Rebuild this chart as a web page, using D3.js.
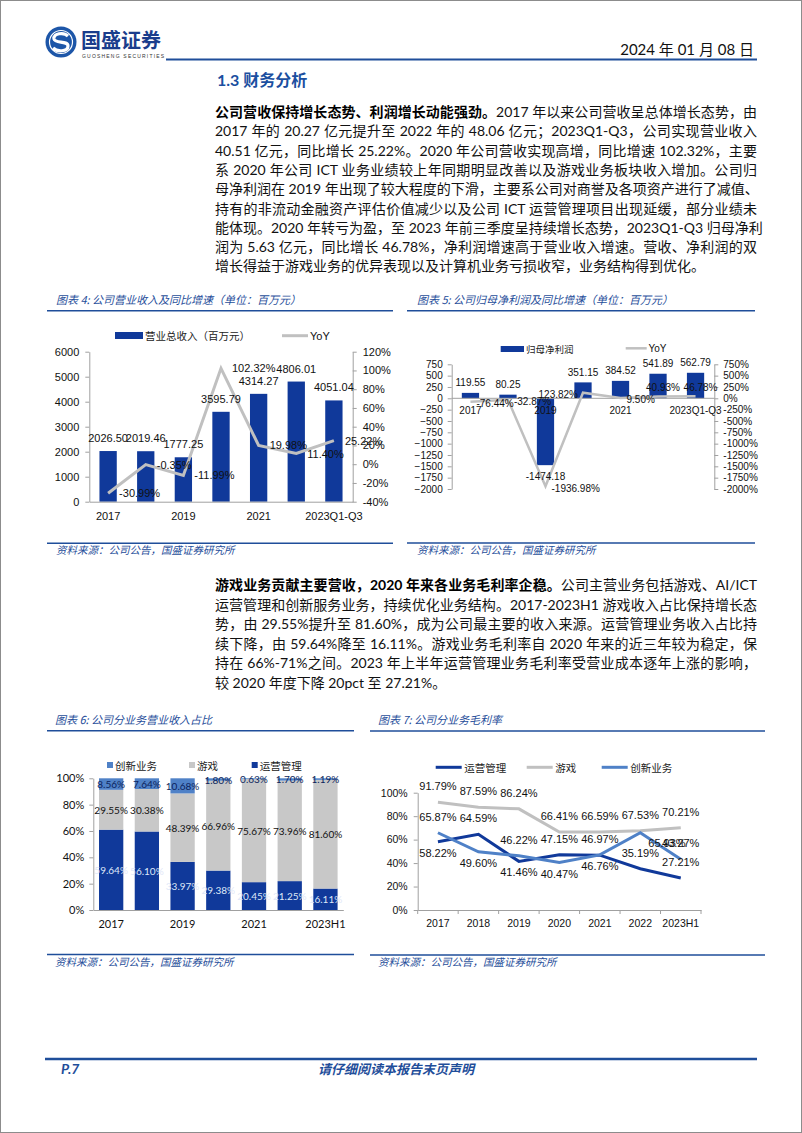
<!DOCTYPE html>
<html lang="zh-CN"><head><meta charset="utf-8">
<script src="https://cdn.jsdelivr.net/npm/d3@7"></script>
<style>
body{margin:0;background:#fff;}
#page{position:relative;width:802px;height:1133px;overflow:hidden;background:#fff;}
#page svg{position:absolute;left:0;top:0;}
.ln{position:absolute;left:215px;width:542px;height:20px;line-height:20px;font-family:Lato,"Noto Sans CJK SC",sans-serif;font-size:14px;color:#111;white-space:nowrap;text-align:justify;text-align-last:justify;text-justify:inter-character;}
.ln.last{text-align-last:left;}
.ln b{font-weight:700;color:#000;}
</style></head>
<body><div id="page"></div>
<script>
// ---------- DATA ----------
const revCategories = ["2017","2018","2019","2020","2021","2022","2023Q1-Q3"];
const revValues = [2026.50, 2019.46, 1777.25, 3595.79, 4314.27, 4806.01, 4051.04];
const revYoY = [-30.99, -0.35, -11.99, 102.32, 19.98, 11.40, 25.22];
const revTickLabels = ["2017","2019","2021","2023Q1-Q3"];
const revLeftTicks = [0,1000,2000,3000,4000,5000,6000];
const revRightTicks = [-40,-20,0,20,40,60,80,100,120];

const npCategories = ["2017","2018","2019","2020","2021","2022","2023Q1-Q3"];
const npValues = [119.55, 80.25, -1474.18, 351.15, 384.52, 541.89, 562.79];
const npYoY = [-76.44, -32.87, -1936.98, 123.82, 9.50, 40.93, 46.78];
const npTickLabels = ["2017","2019","2021","2023Q1-Q3"];
const npTicks = [-2000,-1750,-1500,-1250,-1000,-750,-500,-250,0,250,500,750];

const segCategories = ["2017","2018","2019","2020","2021","2022","2023H1"];
const segOps = [59.64, 56.10, 33.97, 29.38, 20.45, 21.25, 16.11];
const segGame = [29.55, 30.38, 48.39, 66.96, 75.67, 73.96, 81.60];
const segInnov = [8.56, 7.64, 10.68, 1.80, 0.63, 1.70, 1.19];
const segTickLabels = ["2017","2019","2021","2023H1"];
const segTicks = [0,0.2,0.4,0.6,0.8,1];

const gmCategories = ["2017","2018","2019","2020","2021","2022","2023H1"];
const gmOps = [58.22, 64.59, 41.46, 47.15, 46.76, 35.19, 27.21];
const gmGame = [91.79, 87.59, 86.24, 66.41, 66.59, 67.53, 70.21];
const gmInnov = [65.87, 49.60, 46.22, 40.47, 46.97, 65.93, 43.27];
const gmTicks = [0,20,40,60,80,100];

// label placement (layout only)
const npYoYPos = ["right","right","right","left","right","above","above"];
const gmOpsPos = ["below","above","below","above","below","above","above"];
const gmGamePos = ["above","above","above","above","above","above","above"];
const gmInnovPos = ["above","below","above","below","above","right","above"];

// ---------- TEXT ----------
const para1 = [
  ["公司营收保持增长态势、利润增长动能强劲。","2017 年以来公司营收呈总体增长态势，由"],
  ["","2017 年的 20.27 亿元提升至 2022 年的 48.06 亿元；2023Q1-Q3，公司实现营业收入"],
  ["","40.51 亿元，同比增长 25.22%。2020 年公司营收实现高增，同比增速 102.32%，主要"],
  ["","系 2020 年公司 ICT 业务业绩较上年同期明显改善以及游戏业务板块收入增加。公司归"],
  ["","母净利润在 2019 年出现了较大程度的下滑，主要系公司对商誉及各项资产进行了减值、"],
  ["","持有的非流动金融资产评估价值减少以及公司 ICT 运营管理项目出现延缓，部分业绩未"],
  ["","能体现。2020 年转亏为盈，至 2023 年前三季度呈持续增长态势，2023Q1-Q3 归母净利"],
  ["","润为 5.63 亿元，同比增长 46.78%，净利润增速高于营业收入增速。营收、净利润的双"],
  ["","增长得益于游戏业务的优异表现以及计算机业务亏损收窄，业务结构得到优化。"]
];
const para2 = [
  ["游戏业务贡献主要营收，2020 年来各业务毛利率企稳。","公司主营业务包括游戏、AI/ICT"],
  ["","运营管理和创新服务业务，持续优化业务结构。2017-2023H1 游戏收入占比保持增长态"],
  ["","势，由 29.55%提升至 81.60%，成为公司最主要的收入来源。运营管理业务收入占比持"],
  ["","续下降，由 59.64%降至 16.11%。游戏业务毛利率自 2020 年来的近三年较为稳定，保"],
  ["","持在 66%-71%之间。2023 年上半年运营管理业务毛利率受营业成本逐年上涨的影响，"],
  ["","较 2020 年度下降 20pct 至 27.21%。"]
];

// ---------- STYLE ----------
const BLUE = "#10399a", GRAY = "#c0c0c0", MID = "#4f81c7", TBLUE = "#1f4e9a", AX = "#a0a0a0";
const NUM = "'Liberation Sans', Arial, sans-serif";
const CJK = "'Noto Sans CJK SC', sans-serif";
const LAT = "Lato, 'Noto Sans CJK SC', sans-serif";
const fmtInt = d3.format("d");

const page = d3.select("#page");
function addPara(lines, y0, step) {
  lines.forEach((l, i) => {
    const d = page.append("div").attr("class", "ln" + (i === lines.length - 1 ? " last" : ""))
      .style("top", (y0 + i * step - 10) + "px");
    if (l[0]) d.append("b").text(l[0]);
    d.append("span").text(l[1]);
  });
}
addPara(para1, 112, 19.3);
addPara(para2, 585, 19.5);

const svg = page.append("svg").attr("width", 802).attr("height", 1133);
svg.append("rect").attr("x", 0.5).attr("y", 0.5).attr("width", 801).attr("height", 1132)
  .attr("fill", "none").attr("stroke", "#8c8c8c");

// header
const logo = svg.append("g").attr("transform", "translate(61,42)");
logo.append("circle").attr("r", 15.5).attr("fill", "#1d56a8");
logo.append("circle").attr("r", 11.5).attr("fill", "none").attr("stroke", "#fff").attr("stroke-width", 1.2);
logo.append("path").attr("d", "M7,-6 C3,-10 -8,-9 -7,-3 C-6,2 7,-2 7,4 C7,10 -4,10 -8,6")
  .attr("fill", "none").attr("stroke", "#fff").attr("stroke-width", 3.2);
svg.append("text").attr("x", 81).attr("y", 48).attr("font-family", CJK).attr("font-size", 20)
  .attr("font-weight", 700).attr("fill", "#1a3d8c").text("国盛证券");
svg.append("text").attr("x", 82).attr("y", 57.5).attr("font-family", NUM).attr("font-size", 5)
  .attr("letter-spacing", 1.2).attr("fill", "#333").text("GUOSHENG SECURITIES");
svg.append("text").attr("x", 754).attr("y", 55).attr("text-anchor", "end").attr("font-family", LAT)
  .attr("font-size", 15).attr("fill", "#111").text("2024 年 01 月 08 日");
svg.append("line").attr("x1", 166).attr("x2", 757).attr("y1", 59.5).attr("y2", 59.5)
  .attr("stroke", TBLUE).attr("stroke-width", 2);
svg.append("text").attr("x", 217).attr("y", 86).attr("font-family", LAT).attr("font-size", 16)
  .attr("font-weight", 700).attr("fill", "#1b4fa0").text("1.3 财务分析");

// footer
svg.append("line").attr("x1", 45).attr("x2", 757).attr("y1", 1059).attr("y2", 1059)
  .attr("stroke", TBLUE).attr("stroke-width", 2.5);
svg.append("text").attr("x", 61).attr("y", 1074).attr("font-family", LAT).attr("font-size", 14)
  .attr("font-weight", 700).attr("font-style", "italic").attr("fill", TBLUE).text("P.7");
svg.append("text").attr("x", 318).attr("y", 1074).attr("font-family", CJK).attr("font-size", 13)
  .attr("font-weight", 700).attr("font-style", "italic").attr("fill", TBLUE).text("请仔细阅读本报告末页声明");

// chart frames
function frame(x0, x1, tx, title, ty, lineY, srcLineY) {
  svg.append("text").attr("x", tx).attr("y", ty).attr("font-family", CJK).attr("font-size", 11)
    .attr("font-style", "italic").attr("fill", TBLUE).text(title);
  svg.append("line").attr("x1", x0).attr("x2", x1).attr("y1", lineY).attr("y2", lineY)
    .attr("stroke", TBLUE).attr("stroke-width", 1.6);
  svg.append("line").attr("x1", x0).attr("x2", x1).attr("y1", srcLineY).attr("y2", srcLineY)
    .attr("stroke", TBLUE).attr("stroke-width", 1.6);
  svg.append("text").attr("x", tx).attr("y", srcLineY + 11).attr("font-family", CJK).attr("font-size", 10.5)
    .attr("font-style", "italic").attr("fill", TBLUE).text("资料来源：公司公告，国盛证券研究所");
}
frame(47, 393, 56, "图表 4:  公司营业收入及同比增速（单位：百万元）", 304, 310.7, 543.3);
frame(407, 755, 417, "图表 5:  公司归母净利润及同比增速（单位：百万元）", 304, 310.7, 543);
frame(47, 354, 55, "图表 6:  公司分业务营业收入占比", 724, 730.7, 954.5);
frame(370, 765, 378, "图表 7:  公司分业务毛利率", 724, 731, 955);

function styleAxis(g, fs, fam) {
  g.selectAll("path.domain").attr("stroke", AX).attr("stroke-width", 1);
  g.selectAll(".tick line").attr("stroke", AX);
  g.selectAll("text").attr("font-family", fam).attr("font-size", fs).attr("fill", "#111");
}

// ---------- CHART 4 ----------
{
  const x = d3.scaleBand().domain(revCategories).range([89.3, 352.7]).paddingInner(0.54).paddingOuter(0.27);
  const y = d3.scaleLinear().domain([0, 6000]).range([501.7, 351.7]);
  const yr = d3.scaleLinear().domain([-40, 120]).range([501.7, 351.7]);
  const cx = c => x(c) + x.bandwidth() / 2;
  const g = svg.append("g");
  g.selectAll("rect.b").data(revValues).join("rect").attr("x", (d, i) => x(revCategories[i]))
    .attr("y", d => y(d)).attr("width", x.bandwidth()).attr("height", d => y(0) - y(d)).attr("fill", BLUE);
  const la = g.append("g").attr("transform", "translate(89.3,0)")
    .call(d3.axisLeft(y).tickValues(revLeftTicks).tickSize(4).tickPadding(6).tickSizeOuter(0).tickFormat(fmtInt));
  styleAxis(la, 11, NUM);
  const ra = g.append("g").attr("transform", "translate(352.7,0)")
    .call(d3.axisRight(yr).tickValues(revRightTicks).tickSize(4).tickPadding(6).tickSizeOuter(0).tickFormat(d => d + "%"));
  styleAxis(ra, 11, NUM);
  const ba = g.append("g").attr("transform", "translate(0,501.7)")
    .call(d3.axisBottom(x).tickValues(revTickLabels).tickSize(0).tickPadding(11).tickSizeOuter(0));
  styleAxis(ba, 11, NUM);
  g.append("path").datum(revYoY).attr("fill", "none").attr("stroke", GRAY).attr("stroke-width", 3)
    .attr("d", d3.line().x((d, i) => cx(revCategories[i])).y(d => yr(d)));
  g.selectAll("text.bl").data(revValues).join("text").attr("class", "bl")
    .attr("x", (d, i) => cx(revCategories[i])).attr("y", d => y(d) - 9).attr("text-anchor", "middle")
    .attr("font-family", NUM).attr("font-size", 11).attr("fill", "#111").text(d => d.toFixed(2));
  g.selectAll("text.yl").data(revYoY).join("text").attr("class", "yl")
    .attr("x", (d, i) => cx(revCategories[i]) + 11).attr("y", d => yr(d)).attr("dominant-baseline", "central")
    .attr("font-family", NUM).attr("font-size", 11).attr("fill", "#111").text(d => d.toFixed(2) + "%");
  // legend
  g.append("rect").attr("x", 115).attr("y", 332).attr("width", 28).attr("height", 7).attr("fill", BLUE);
  g.append("text").attr("x", 145).attr("y", 335.5).attr("dominant-baseline", "central").attr("font-family", CJK)
    .attr("font-size", 10.5).attr("fill", "#222").text("营业总收入（百万元）");
  g.append("line").attr("x1", 282).attr("x2", 308).attr("y1", 335.7).attr("y2", 335.7).attr("stroke", GRAY).attr("stroke-width", 3);
  g.append("text").attr("x", 310).attr("y", 335.7).attr("dominant-baseline", "central").attr("font-family", NUM)
    .attr("font-size", 11).attr("fill", "#111").text("YoY");
}

// ---------- CHART 5 ----------
{
  const x = d3.scaleBand().domain(npCategories).range([451.7, 714.3]).paddingInner(0.54).paddingOuter(0.27);
  const y = d3.scaleLinear().domain([-2000, 750]).range([489, 364.3]);
  const cx = c => x(c) + x.bandwidth() / 2;
  const g = svg.append("g");
  g.selectAll("rect.b").data(npValues).join("rect").attr("x", (d, i) => x(npCategories[i]))
    .attr("y", d => y(Math.max(0, d))).attr("width", x.bandwidth()).attr("height", d => Math.abs(y(0) - y(d))).attr("fill", BLUE);
  const la = g.append("g").attr("transform", "translate(451.7,0)")
    .call(d3.axisLeft(y).tickValues(npTicks).tickSize(4).tickPadding(5).tickSizeOuter(0).tickFormat(fmtInt));
  styleAxis(la, 10, NUM);
  const ra = g.append("g").attr("transform", "translate(714.3,0)")
    .call(d3.axisRight(y).tickValues(npTicks).tickSize(4).tickPadding(5).tickSizeOuter(0).tickFormat(d => d + "%"));
  styleAxis(ra, 10, NUM);
  g.append("line").attr("x1", 451.7).attr("x2", 714.3).attr("y1", y(0)).attr("y2", y(0)).attr("stroke", AX);
  g.selectAll("text.xl").data(npTickLabels).join("text").attr("x", d => cx(d)).attr("y", y(0) + 12)
    .attr("text-anchor", "middle").attr("dominant-baseline", "central").attr("font-family", NUM)
    .attr("font-size", 10).attr("fill", "#111").text(d => d);
  g.append("path").datum(npYoY).attr("fill", "none").attr("stroke", GRAY).attr("stroke-width", 2.5)
    .attr("d", d3.line().x((d, i) => cx(npCategories[i])).y(d => y(d)));
  g.selectAll("text.bl").data(npValues).join("text")
    .attr("x", (d, i) => cx(npCategories[i])).attr("y", d => d >= 0 ? y(d) - 10 : y(d) + 11)
    .attr("text-anchor", "middle").attr("dominant-baseline", "central")
    .attr("font-family", NUM).attr("font-size", 10).attr("fill", "#111").text(d => d.toFixed(2));
  g.selectAll("text.yl").data(npYoY).join("text")
    .attr("x", (d, i) => { const p = npYoYPos[i], c = cx(npCategories[i]); return p === "right" ? c + 6 : p === "left" ? c - 5 : c + 5; })
    .attr("y", (d, i) => npYoYPos[i] === "above" ? y(d) - 9 : y(d) + 2)
    .attr("text-anchor", (d, i) => npYoYPos[i] === "right" ? "start" : npYoYPos[i] === "left" ? "end" : "middle")
    .attr("dominant-baseline", "central")
    .attr("font-family", NUM).attr("font-size", 10).attr("fill", "#111").text(d => d.toFixed(2) + "%");
  g.append("rect").attr("x", 500.7).attr("y", 346).attr("width", 23.3).attr("height", 6).attr("fill", BLUE);
  g.append("text").attr("x", 526).attr("y", 349).attr("dominant-baseline", "central").attr("font-family", CJK)
    .attr("font-size", 9.5).attr("fill", "#222").text("归母净利润");
  g.append("line").attr("x1", 625.7).attr("x2", 646.7).attr("y1", 348.3).attr("y2", 348.3).attr("stroke", GRAY).attr("stroke-width", 2.5);
  g.append("text").attr("x", 648.5).attr("y", 348.3).attr("dominant-baseline", "central").attr("font-family", NUM)
    .attr("font-size", 10).attr("fill", "#111").text("YoY");
}

// ---------- CHART 6 ----------
{
  const x = d3.scaleBand().domain(segCategories).range([93.3, 343.3]).paddingInner(0.32).paddingOuter(0.16);
  const y = d3.scaleLinear().domain([0, 1]).range([910, 778.3]);
  const rows = segCategories.map((c, i) => ({ cat: c, ops: segOps[i], game: segGame[i], innov: segInnov[i] }));
  const keys = ["ops", "game", "innov"];
  const colors = { ops: BLUE, game: "#c8c8c8", innov: MID };
  const tcol = { ops: "#dfe8f8", game: "#111", innov: "#0b1f5c" };
  const series = d3.stack().keys(keys).offset(d3.stackOffsetExpand)(rows);
  const g = svg.append("g");
  series.forEach(s => {
    g.selectAll(null).data(s).join("rect").attr("x", d => x(d.data.cat)).attr("y", d => y(d[1]))
      .attr("width", x.bandwidth()).attr("height", d => y(d[0]) - y(d[1])).attr("fill", colors[s.key]);
  });
  series.forEach(s => {
    g.selectAll(null).data(s).join("text").attr("x", d => x(d.data.cat) + x.bandwidth() / 2)
      .attr("y", d => (y(d[0]) + y(d[1])) / 2).attr("text-anchor", "middle").attr("dominant-baseline", "central")
      .attr("font-family", LAT).attr("font-size", 10).attr("fill", tcol[s.key])
      .text(d => d.data[s.key].toFixed(2) + "%");
  });
  const la = g.append("g").attr("transform", "translate(93.3,0)")
    .call(d3.axisLeft(y).tickValues(segTicks).tickSize(4).tickPadding(5).tickSizeOuter(0).tickFormat(d3.format(".0%")));
  styleAxis(la, 11, LAT);
  const ba = g.append("g").attr("transform", "translate(0,910)")
    .call(d3.axisBottom(x).tickValues(segTickLabels).tickSize(0).tickPadding(10).tickSizeOuter(0));
  styleAxis(ba, 11, LAT);
  const leg = [["创新业务", MID, 107], ["游戏", "#c8c8c8", 189], ["运营管理", BLUE, 251.7]];
  leg.forEach(([t, c, lx]) => {
    g.append("rect").attr("x", lx).attr("y", 762).attr("width", 6).attr("height", 6).attr("fill", c);
    g.append("text").attr("x", lx + 8).attr("y", 765).attr("dominant-baseline", "central").attr("font-family", CJK)
      .attr("font-size", 10.5).attr("fill", "#222").text(t);
  });
}

// ---------- CHART 7 ----------
{
  const x = d3.scaleBand().domain(gmCategories).range([417.7, 701]);
  const y = d3.scaleLinear().domain([0, 100]).range([910, 792.7]);
  const cx = c => x(c) + x.bandwidth() / 2;
  const g = svg.append("g");
  const la = g.append("g").attr("transform", "translate(417.7,0)")
    .call(d3.axisLeft(y).tickValues(gmTicks).tickSize(4).tickPadding(6).tickSizeOuter(0).tickFormat(d => d + "%"));
  styleAxis(la, 10.5, NUM);
  const ba = g.append("g").attr("transform", "translate(0,910)")
    .call(d3.axisBottom(x).tickSize(0).tickPadding(10).tickSizeOuter(0));
  styleAxis(ba, 10.5, NUM);
  g.selectAll("line.bt").data(d3.range(gmCategories.length + 1)).join("line")
    .attr("x1", i => 417.7 + i * x.step()).attr("x2", i => 417.7 + i * x.step())
    .attr("y1", 910).attr("y2", 914).attr("stroke", AX);
  const sers = [[gmOps, BLUE, gmOpsPos], [gmGame, GRAY, gmGamePos], [gmInnov, MID, gmInnovPos]];
  sers.forEach(([vals, col]) => {
    g.append("path").datum(vals).attr("fill", "none").attr("stroke", col).attr("stroke-width", 3)
      .attr("d", d3.line().x((d, i) => cx(gmCategories[i])).y(d => y(d)));
  });
  sers.forEach(([vals, col, pos]) => {
    g.selectAll(null).data(vals).join("text")
      .attr("x", (d, i) => pos[i] === "right" ? cx(gmCategories[i]) + 8 : cx(gmCategories[i]))
      .attr("y", (d, i) => pos[i] === "above" ? y(d) - 16 : pos[i] === "below" ? y(d) + 11 : y(d) + 10)
      .attr("text-anchor", (d, i) => pos[i] === "right" ? "start" : "middle")
      .attr("dominant-baseline", "central").attr("font-family", NUM).attr("font-size", 11).attr("fill", "#111")
      .text(d => d.toFixed(2) + "%");
  });
  const leg = [["运营管理", BLUE, 435.7], ["游戏", GRAY, 526.7], ["创新业务", MID, 601.7]];
  leg.forEach(([t, c, lx]) => {
    g.append("line").attr("x1", lx).attr("x2", lx + 26).attr("y1", 767.3).attr("y2", 767.3).attr("stroke", c).attr("stroke-width", 3);
    g.append("text").attr("x", lx + 28.5).attr("y", 767.3).attr("dominant-baseline", "central").attr("font-family", CJK)
      .attr("font-size", 10.5).attr("fill", "#222").text(t);
  });
}
</script>
</body></html>
